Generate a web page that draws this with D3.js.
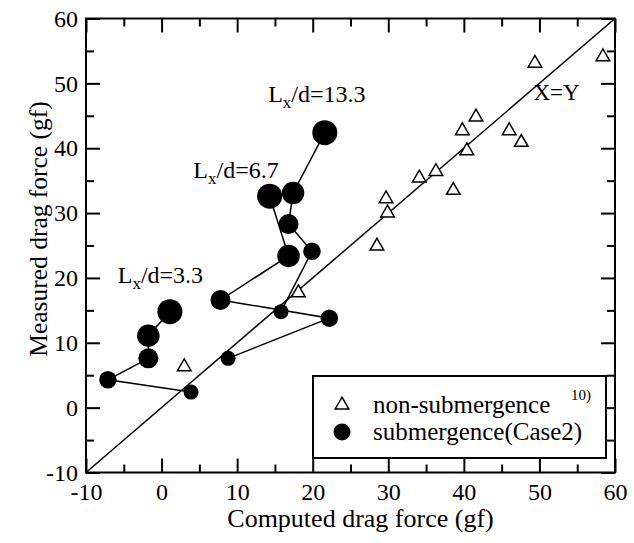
<!DOCTYPE html>
<html>
<head>
<meta charset="utf-8">
<script src="https://cdn.jsdelivr.net/npm/d3@7"></script>
<style>
  body { margin: 0; background: #fff; }
</style>
</head>
<body>
<div id="chart"></div>
<script>
// non-submergence data (ref. 10)
const nonSubX = [49.4, 58.4, 41.6, 39.8, 46.0, 47.6, 40.4, 34.1, 36.3, 38.6, 29.7, 29.9, 28.5, 18.1, 3.0];
const nonSubY = [53.1, 54.1, 44.8, 42.7, 42.7, 40.9, 39.6, 35.4, 36.4, 33.5, 32.2, 30.0, 24.9, 17.7, 6.3];

// submergence (Case2), one run per Lx/d, points in order of decreasing marker size
const case33X = [1.1, -1.75, -1.75, -7.1, 3.9];
const case33Y = [14.8, 11.1, 7.6, 4.3, 2.4];
const case67X = [14.3, 16.8, 7.8, 22.2, 8.8];
const case67Y = [32.6, 23.4, 16.6, 13.8, 7.6];
const case133X = [21.6, 17.4, 16.8, 19.9, 15.8];
const case133Y = [42.4, 33.1, 28.3, 24.1, 14.8];
const sizeLevel = [5, 4, 3, 2, 1];

const runLabels = ["3.3", "6.7", "13.3"];
const labelX = [-5.8, 4.2, 14.1];
const labelY = [19.2, 35.4, 47.1];

const majorTicks = [-10, 0, 10, 20, 30, 40, 50, 60];
const minorTicks = [-5, 5, 15, 25, 35, 45, 55];

const FONT = "'Liberation Serif', 'Times New Roman', Times, serif";

const width = 634, height = 543;
const margin = { top: 18.5, right: 19, bottom: 70.5, left: 86 };
const w = width - margin.left - margin.right;
const h = height - margin.top - margin.bottom;

const x = d3.scaleLinear().domain([-10, 60]).range([0, w]);
const y = d3.scaleLinear().domain([-10, 60]).range([h, 0]);
const r = d3.scaleLinear().domain([1, 5]).range([7.5, 12.5]);

const svg = d3.select("#chart").append("svg")
    .attr("width", width)
    .attr("height", height)
    .style("font-family", FONT);

const g = svg.append("g")
    .attr("transform", "translate(" + margin.left + "," + margin.top + ")");

// ticks on all four sides, pointing inward
function ticks(axis, transform, values, len, labels) {
    const a = g.append("g")
        .attr("transform", transform)
        .call(axis.tickValues(values).tickSize(-len).tickFormat(labels ? d => String(d) : ""));
    a.attr("font-family", null).attr("font-size", null);
    a.select(".domain").remove();
    a.selectAll("line").attr("stroke", "#000").attr("stroke-width", 2);
    a.selectAll("text").attr("fill", "#000").style("font-family", FONT);
    return a;
}

const xb = ticks(d3.axisBottom(x), "translate(0," + h + ")", majorTicks, 14, true);
xb.selectAll("text").attr("y", 27).attr("dy", null).style("font-size", "24px");
ticks(d3.axisBottom(x), "translate(0," + h + ")", minorTicks, 8, false);
ticks(d3.axisTop(x), "translate(0,0)", majorTicks, 14, false);
ticks(d3.axisTop(x), "translate(0,0)", minorTicks, 8, false);

const yl = ticks(d3.axisLeft(y), "translate(0,0)", majorTicks, 14, true);
yl.selectAll("text").attr("x", -8).style("font-size", "24px");
ticks(d3.axisLeft(y), "translate(0,0)", minorTicks, 8, false);
ticks(d3.axisRight(y), "translate(" + w + ",0)", majorTicks, 14, false);
ticks(d3.axisRight(y), "translate(" + w + ",0)", minorTicks, 8, false);

// X=Y line
g.append("line")
    .attr("x1", x(-10)).attr("y1", y(-10))
    .attr("x2", x(60)).attr("y2", y(60))
    .attr("stroke", "#000").attr("stroke-width", 1.5);

g.append("text")
    .attr("x", x(49.2)).attr("y", y(47.4))
    .style("font-size", "23px")
    .text("X=Y");

// submergence runs: connecting lines then filled circles
const runs = [[case33X, case33Y], [case67X, case67Y], [case133X, case133Y]];
const line = d3.line().x(d => x(d[0])).y(d => y(d[1]));

runs.forEach(([xs, ys]) => {
    const pts = xs.map((v, i) => [v, ys[i], sizeLevel[i]]);
    g.append("path")
        .attr("d", line(pts))
        .attr("fill", "none")
        .attr("stroke", "#000")
        .attr("stroke-width", 1.5);
});

runs.forEach(([xs, ys]) => {
    const pts = xs.map((v, i) => [v, ys[i], sizeLevel[i]]);
    g.selectAll(null).data(pts).enter().append("circle")
        .attr("cx", d => x(d[0]))
        .attr("cy", d => y(d[1]))
        .attr("r", d => r(d[2]))
        .attr("fill", "#000");
});

// non-submergence triangles
const tri = d3.symbol().type(d3.symbolTriangle).size(80);
g.selectAll(".tri").data(nonSubX.map((v, i) => [v, nonSubY[i]])).enter().append("path")
    .attr("class", "tri")
    .attr("transform", d => "translate(" + x(d[0]) + "," + y(d[1]) + ")")
    .attr("d", tri)
    .attr("fill", "#fff")
    .attr("stroke", "#000")
    .attr("stroke-width", 1.5);

// Lx/d labels
runLabels.forEach((lab, i) => {
    const t = g.append("text")
        .attr("x", x(labelX[i])).attr("y", y(labelY[i]))
        .style("font-size", "24px");
    t.append("tspan").text("L");
    t.append("tspan").attr("dy", 6).style("font-size", "17px").text("x");
    t.append("tspan").attr("dy", -6).text("/d=" + lab);
});

// frame
g.append("rect")
    .attr("width", w).attr("height", h)
    .attr("fill", "none")
    .attr("stroke", "#000")
    .attr("stroke-width", 2);

// legend
const lg = svg.append("g").attr("transform", "translate(313,376)");
lg.append("rect")
    .attr("width", 293).attr("height", 82)
    .attr("fill", "#fff")
    .attr("stroke", "#000")
    .attr("stroke-width", 2);
lg.append("path")
    .attr("transform", "translate(29,29)")
    .attr("d", tri)
    .attr("fill", "#fff").attr("stroke", "#000").attr("stroke-width", 1.5);
lg.append("circle")
    .attr("cx", 29).attr("cy", 56).attr("r", 8.5)
    .attr("fill", "#000");
const l1 = lg.append("text").attr("x", 60).attr("y", 37).style("font-size", "25px");
l1.append("tspan").text("non-submergence");
l1.append("tspan").attr("x", 258).attr("y", 24).style("font-size", "15px").text("10)");
lg.append("text").attr("x", 60).attr("y", 64).style("font-size", "25px").text("submergence(Case2)");

// axis titles
svg.append("text")
    .attr("x", margin.left + w / 2 + 10).attr("y", 527)
    .attr("text-anchor", "middle")
    .style("font-size", "26px")
    .text("Computed drag force (gf)");

svg.append("text")
    .attr("transform", "translate(47,229) rotate(-90)")
    .attr("text-anchor", "middle")
    .style("font-size", "25.5px")
    .text("Measured drag force (gf)");
</script>
</body>
</html>
